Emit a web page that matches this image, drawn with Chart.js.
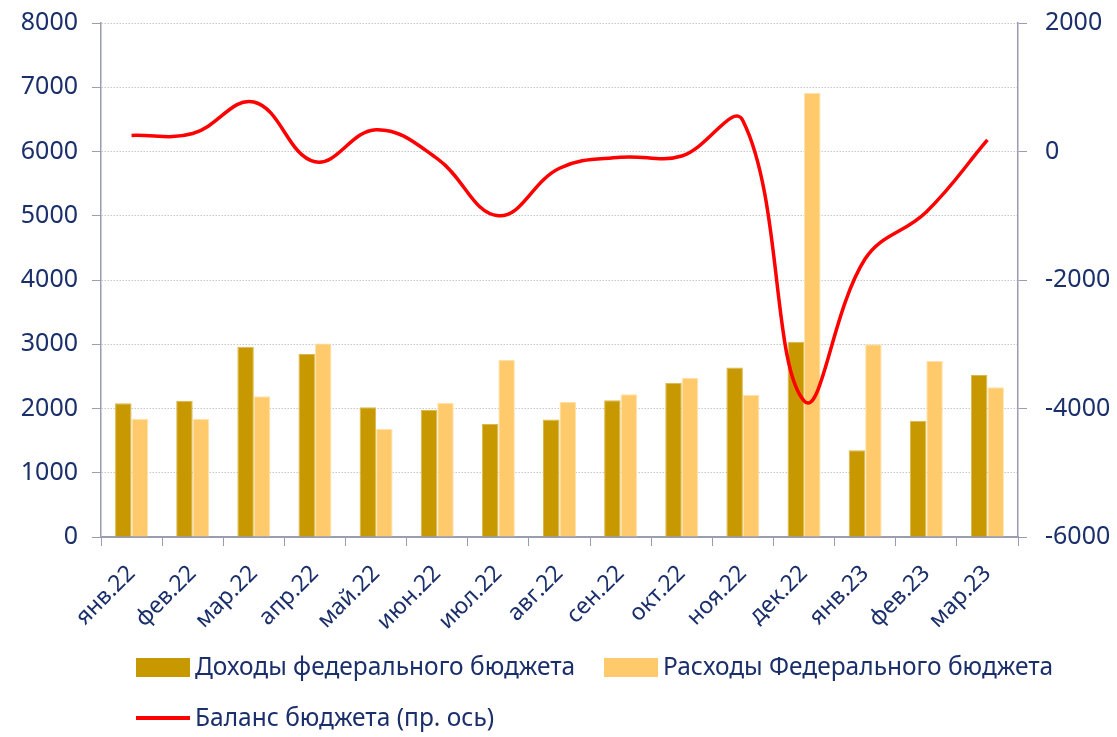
<!DOCTYPE html>
<html>
<head>
<meta charset="utf-8">
<script src="https://cdn.jsdelivr.net/npm/chart.js@4"></script>
<style>
  body { margin: 0; background: #fff; }
  #wrap { position: relative; width: 1117px; height: 737px; }
  .legend { position: absolute; font-family: "Noto Sans", sans-serif; font-size: 24.5px; color: #1b2f6b; white-space: nowrap; }
  .legend .box { position: absolute; width: 54px; height: 19px; }
  .legend .txt { position: absolute; line-height: 30px; }
</style>
</head>
<body>
<div id="wrap">
  <canvas id="myChart" width="1117" height="737"></canvas>
  <div class="legend" style="left:0;top:0">
    <div class="box" style="left:136px;top:658px;background:#c89800"></div>
    <div class="txt" style="left:195px;top:651px">Доходы федерального бюджета</div>
    <div class="box" style="left:604px;top:658px;background:#ffca6b"></div>
    <div class="txt" style="left:663px;top:651px">Расходы Федерального бюджета</div>
    <div class="box" style="left:136px;top:716px;height:4px;background:#ff0000"></div>
    <div class="txt" style="left:195px;top:702px">Баланс бюджета (пр. ось)</div>
  </div>
</div>
<script>
// months
var labels = ['янв.22', 'фев.22', 'мар.22', 'апр.22', 'май.22', 'июн.22', 'июл.22', 'авг.22',
              'сен.22', 'окт.22', 'ноя.22', 'дек.22', 'янв.23', 'фев.23', 'мар.23'];

// bars, left axis
var revenue  = [2080, 2120, 2960, 2850, 2020, 1980, 1760, 1830, 2130, 2400, 2640, 3040, 1350, 1810, 2520];
var spending = [1840, 1840, 2190, 3010, 1680, 2090, 2760, 2100, 2220, 2480, 2210, 6910, 3000, 2740, 2330];

// line, right axis
var balance = [250, 280, 770, -160, 340, -110, -1000, -260, -90, -70, 480, -3880, -1670, -940, 180];

var navy = '#1b2f6b';
var axisGray = '#9a9cb0';

const ctx = document.getElementById('myChart').getContext('2d');
const myChart = new Chart(ctx, {
    type: 'bar',
    data: {
        labels: labels,
        datasets: [
            {
                type: 'line',
                label: 'Баланс бюджета (пр. ось)',
                data: balance,
                yAxisID: 'y1',
                borderColor: '#ff0000',
                borderWidth: 3.5,
                pointRadius: 0,
                tension: 0.4,
                order: 0
            },
            {
                label: 'Доходы федерального бюджета',
                data: revenue,
                backgroundColor: '#c89800',
                borderColor: '#dcb84a',
                borderWidth: 1,
                order: 1
            },
            {
                label: 'Расходы Федерального бюджета',
                data: spending,
                backgroundColor: '#ffca6b',
                borderColor: '#ffe2a8',
                borderWidth: 1,
                order: 2
            }
        ]
    },
    options: {
        responsive: false,
        animation: false,
        layout: { padding: 0 },
        plugins: {
            legend: { display: false },
            tooltip: { enabled: false }
        },
        datasets: {
            bar: { barPercentage: 1, categoryPercentage: 0.54 }
        },
        scales: {
            x: {
                afterFit: function(scale) { scale.height = 200; },
                grid: { drawOnChartArea: false, color: axisGray, tickLength: 9 },
                border: { color: axisGray, width: 2 },
                ticks: {
                    color: navy,
                    font: { family: 'Noto Sans', size: 23 },
                    maxRotation: 45,
                    minRotation: 45,
                    padding: 14
                }
            },
            y: {
                position: 'left',
                min: 0,
                max: 8000,
                afterFit: function(scale) { scale.width = 101; scale.paddingTop = 23; },
                ticks: {
                    stepSize: 1000,
                    color: navy,
                    font: { family: 'Noto Sans', size: 25, lineHeight: 1 },
                    padding: 14,
                    callback: function(v) { return String(v); }
                },
                grid: { color: '#c8c8c8', tickColor: axisGray, tickLength: 9 },
                border: { color: axisGray, width: 1.5, dash: [1.5, 1.5] }
            },
            y1: {
                position: 'right',
                min: -6000,
                max: 2000,
                afterFit: function(scale) { scale.width = 99; scale.paddingTop = 23; },
                ticks: {
                    stepSize: 2000,
                    color: navy,
                    font: { family: 'Noto Sans', size: 25, lineHeight: 1 },
                    padding: 18,
                    callback: function(v) { return String(v); }
                },
                grid: { drawOnChartArea: false, color: axisGray, tickLength: 9 },
                border: { color: axisGray, width: 1.5 }
            }
        }
    }
});
</script>
</body>
</html>
